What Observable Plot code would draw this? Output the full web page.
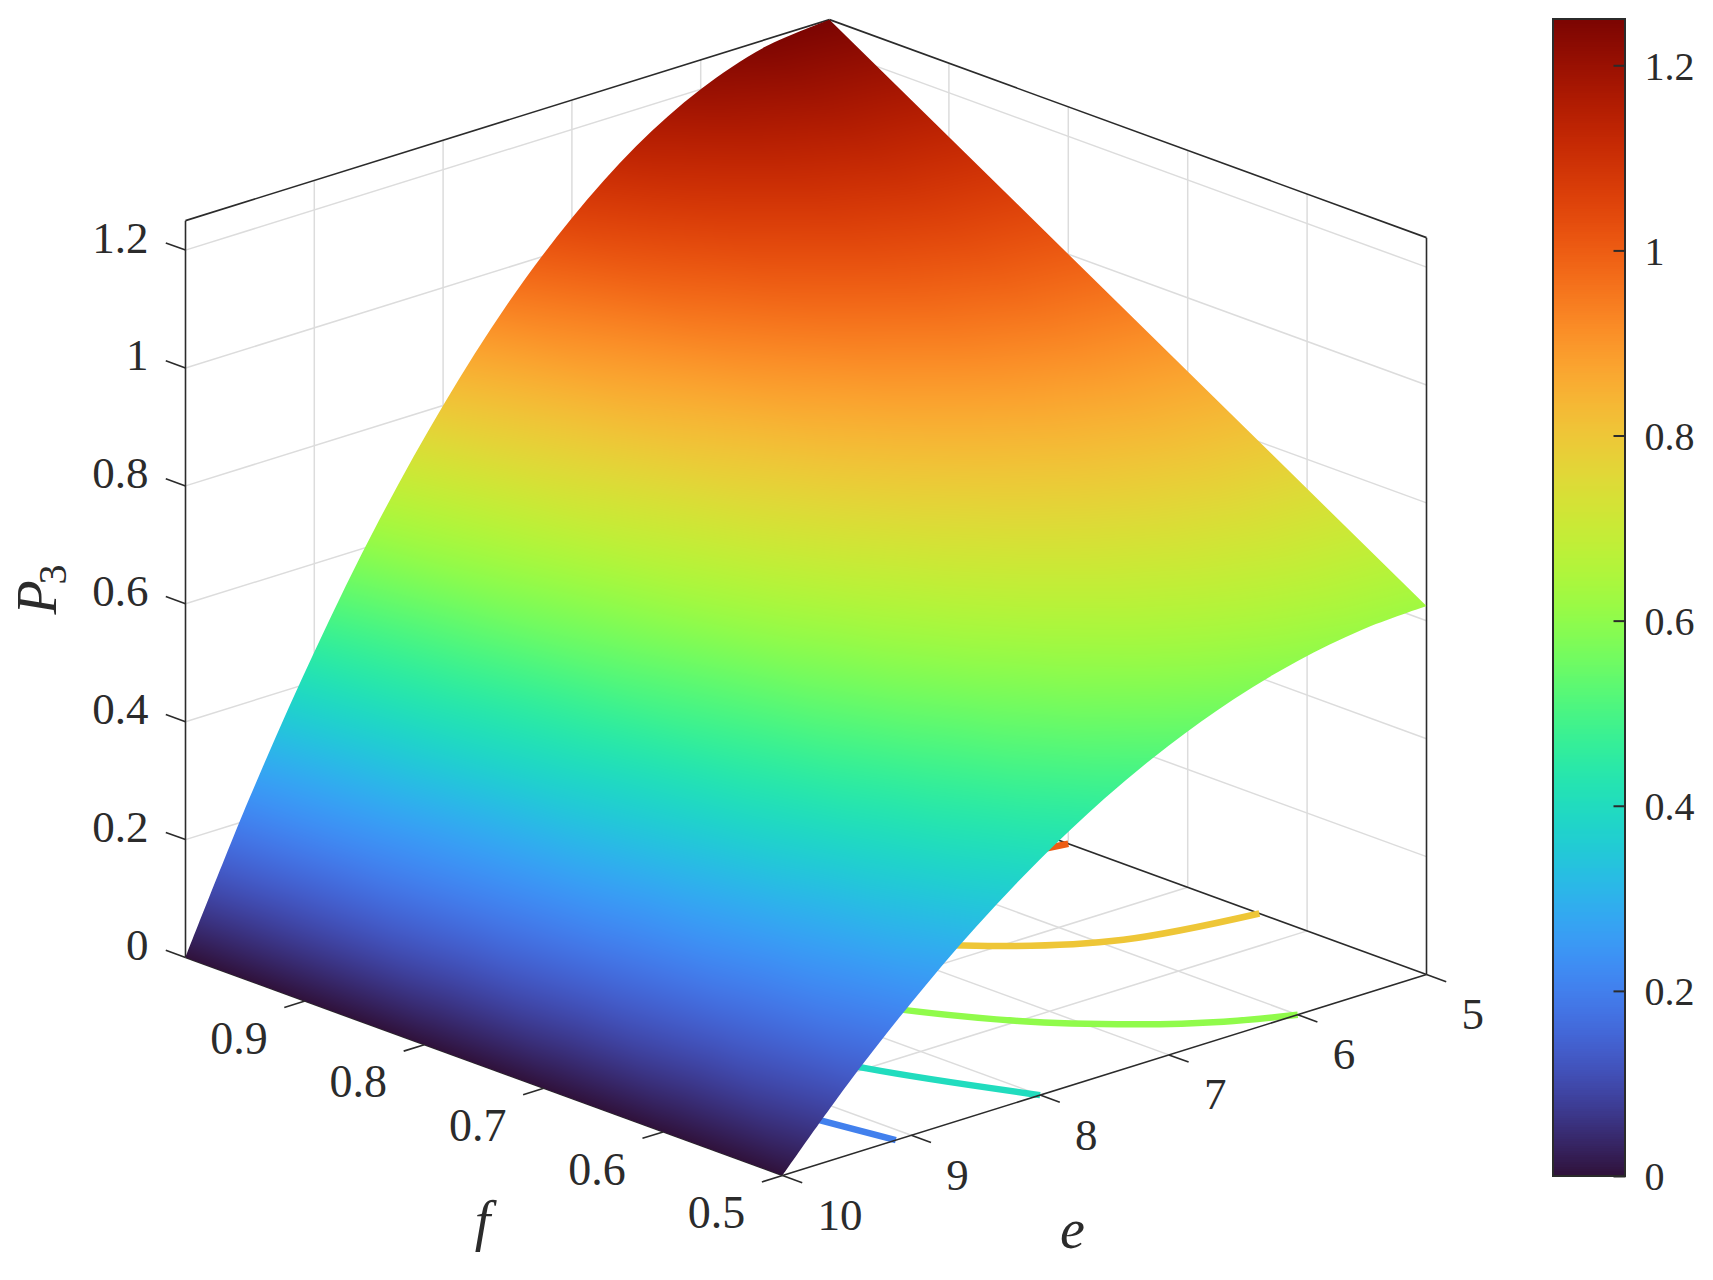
<!DOCTYPE html>
<html>
<head>
<meta charset="utf-8">
<script src="https://cdn.jsdelivr.net/npm/d3@7"></script>
<script src="https://cdn.jsdelivr.net/npm/@observablehq/plot@0.6"></script>
<style>html,body{margin:0;padding:0;background:#fff}svg{display:block}</style>
</head>
<body>
<div id="chart"></div>
<script>
// ---- values ----
const eValues = [5, 5.5, 6, 6.5, 7, 7.5, 8, 8.5, 9, 9.5, 10];
const fValues = [0.5, 0.6, 0.7, 0.8, 0.9, 1];
const P3_f05 = [0.625, 0.619, 0.600, 0.569, 0.525, 0.469, 0.400, 0.319, 0.225, 0.119, 0];
const P3_f06 = [0.750, 0.743, 0.720, 0.683, 0.630, 0.563, 0.480, 0.383, 0.270, 0.143, 0];
const P3_f07 = [0.875, 0.866, 0.840, 0.796, 0.735, 0.656, 0.560, 0.446, 0.315, 0.166, 0];
const P3_f08 = [1.000, 0.990, 0.960, 0.910, 0.840, 0.750, 0.640, 0.510, 0.360, 0.190, 0];
const P3_f09 = [1.125, 1.114, 1.080, 1.024, 0.945, 0.844, 0.720, 0.574, 0.405, 0.214, 0];
const P3_f10 = [1.250, 1.238, 1.200, 1.138, 1.050, 0.938, 0.800, 0.638, 0.450, 0.238, 0];
const P3Rows = [P3_f05, P3_f06, P3_f07, P3_f08, P3_f09, P3_f10];

// floor contours: level, then matching f and e lists
const contourLevels = [0.2, 0.4, 0.6, 0.8, 1.0];
const contourF = [
  [0.5, 0.6, 0.7, 0.8, 0.9, 1],
  [0.5, 0.6, 0.7, 0.8, 0.9, 1],
  [0.5, 0.52, 0.55, 0.6, 0.7, 0.8, 0.9, 1],
  [0.64, 0.66, 0.7, 0.8, 0.9, 1],
  [0.8, 0.82, 0.85, 0.9, 1]
];
const contourE = [
  [9.12, 9.28, 9.39, 9.47, 9.53, 9.58],
  [8.00, 8.42, 8.68, 8.87, 9.01, 9.12],
  [6.00, 6.39, 6.78, 7.24, 7.80, 8.16, 8.42, 8.61],
  [5.00, 5.87, 6.46, 7.24, 7.69, 8.00],
  [5.00, 5.78, 6.21, 6.67, 7.24]
];

const zTicks = [0, 0.2, 0.4, 0.6, 0.8, 1, 1.2];
const zLabels = ["0", "0.2", "0.4", "0.6", "0.8", "1", "1.2"];
const eTicks = [5, 6, 7, 8, 9, 10];
const fTicks = [0.5, 0.6, 0.7, 0.8, 0.9];
const fLabels = ["0.5", "0.6", "0.7", "0.8", "0.9"];
const zMax = 1.25;
// MATLAB-style turbo colormap control colours, evenly spaced from 0 to zMax
const turboColors = ["#30123b", "#4145ab", "#4675ed", "#39a2fc", "#1bcfd4", "#24eca6", "#61fc6c", "#a4fc3b", "#d1e834", "#f3c63a", "#fe9b2d", "#f36315", "#d93806", "#b11901", "#7a0402"];

// ---- orthographic view of the box (e, f, P3) -> page units ----
const view = {x0: 782, y0: 1175, ex: 644, ey: -201, fx: -597, fy: -218, zy: -589.5};
const px = (e, f) => view.x0 + view.ex * (10 - e) / 5 + view.fx * (f - 0.5) / 0.5;
const py = (e, f, z = 0) => view.y0 + view.ey * (10 - e) / 5 + view.fy * (f - 0.5) / 0.5 + view.zy * z;
const seg = (e1, f1, z1, e2, f2, z2) => ({x1: px(e1, f1), y1: py(e1, f1, z1), x2: px(e2, f2), y2: py(e2, f2, z2)});

// colour bar placement
const bar = {x1: 1553, x2: 1625, y0: 1176, k: 925.6};
const barY = (v) => bar.y0 - bar.k * v;

// ---- derived tables ----
const surface = fValues.flatMap((f, i) => eValues.map((e, j) => ({x: px(e, f), y: py(e, f, P3Rows[i][j]), z: P3Rows[i][j]})));

const zGrid = zTicks.slice(1);
const gridLines = [
  ...zGrid.map(z => seg(10, 1, z, 5, 1, z)),
  ...zGrid.map(z => seg(5, 1, z, 5, 0.5, z)),
  ...eTicks.slice(1, 5).map(e => seg(e, 1, 0, e, 1, zMax)),
  ...fTicks.slice(1).map(f => seg(5, f, 0, 5, f, zMax)),
  ...eTicks.slice(1, 5).map(e => seg(e, 0.5, 0, e, 1, 0)),
  ...fTicks.slice(1).map(f => seg(10, f, 0, 5, f, 0))
];
const backBox = [
  seg(10, 1, zMax, 5, 1, zMax), seg(5, 1, zMax, 5, 0.5, zMax),
  seg(10, 1, 0, 10, 1, zMax), seg(5, 0.5, 0, 5, 0.5, zMax),
  seg(5, 1, 0, 5, 0.5, 0), seg(10, 1, 0, 10, 0.5, 0)
];
const frontBox = [seg(10, 0.5, 0, 5, 0.5, 0)];
const tickLines = [
  ...zTicks.map(z => seg(10, 1, z, 10, 1.0165, z)),
  ...eTicks.map(e => seg(e, 0.5, 0, e, 0.4835, 0)),
  ...fTicks.map(f => seg(10, f, 0, 10.16, f, 0))
];
const contours = contourLevels.flatMap((level, i) =>
  contourF[i].map((f, j) => ({level, x: px(contourE[i][j], f), y: py(contourE[i][j], f)})));

const barStep = 0.0025;
const barBands = d3.range(0, zMax, barStep).map(v => ({v, y1: barY(v), y2: barY(v + barStep)}));
const barLabels = zTicks.map((v, i) => ({v, label: zLabels[i]}));

const serif = "Liberation Serif";
const ink = "#2b2b2b";
const text = {fontFamily: serif, fill: ink, lineAnchor: "middle"};

const plot = Plot.plot({
  width: 1713, height: 1280,
  marginTop: 0, marginRight: 0, marginBottom: 0, marginLeft: 0,
  style: {background: "#fff"},
  x: {domain: [0, 1713], range: [0, 1713], axis: null},
  y: {domain: [0, 1280], range: [0, 1280], axis: null},
  color: {type: "linear", domain: [0, zMax], interpolate: d3.interpolateRgbBasis(turboColors)},
  marks: [
    Plot.link(gridLines, {x1: "x1", y1: "y1", x2: "x2", y2: "y2", stroke: "#dcdcdc", strokeWidth: 1.5}),
    Plot.link(backBox, {x1: "x1", y1: "y1", x2: "x2", y2: "y2", stroke: ink, strokeWidth: 1.6}),
    Plot.line(contours, {x: "x", y: "y", z: "level", stroke: "level", strokeWidth: 6.5, strokeLinecap: "butt", curve: "catmull-rom"}),
    Plot.raster(surface, {x: "x", y: "y", fill: "z", interpolate: "barycentric", pixelSize: 1}),
    Plot.link(frontBox, {x1: "x1", y1: "y1", x2: "x2", y2: "y2", stroke: ink, strokeWidth: 1.6}),
    Plot.link(tickLines, {x1: "x1", y1: "y1", x2: "x2", y2: "y2", stroke: ink, strokeWidth: 1.6}),

    Plot.text(zTicks, {x: () => 148, y: z => py(10, 1, z) - 12, text: (z, i) => zLabels[i], textAnchor: "end", fontSize: 45, ...text}),
    Plot.text(fTicks, {x: f => px(10, f) - 66, y: f => py(10, f) + 38, text: (f, i) => fLabels[i], fontSize: 46, ...text}),
    Plot.text(eTicks, {x: e => px(e, 0.5) + 35, y: e => py(e, 0.5) + 40, text: e => String(e), textAnchor: "start", fontSize: 45, ...text}),
    Plot.text(["f"], {x: () => 482, y: () => 1222, text: d => d, fontSize: 56, fontStyle: "italic", ...text}),
    Plot.text(["e"], {x: () => 1072, y: () => 1230, text: d => d, fontSize: 56, fontStyle: "italic", ...text}),
    Plot.text(["P"], {x: () => 38, y: () => 597, text: d => d, rotate: -90, fontSize: 56, fontStyle: "italic", ...text}),
    Plot.text(["3"], {x: () => 53, y: () => 574, text: d => d, rotate: -90, fontSize: 40, ...text}),

    Plot.rect(barBands, {x1: () => bar.x1, x2: () => bar.x2, y1: "y1", y2: "y2", fill: "v", shapeRendering: "crispEdges"}),
    Plot.rect([0], {x1: () => bar.x1, x2: () => bar.x2, y1: () => barY(0), y2: () => barY(zMax), stroke: ink, strokeWidth: 2, fill: "none"}),
    Plot.link(zTicks, {x1: () => bar.x2 - 12, x2: () => bar.x2, y1: v => barY(v), y2: v => barY(v), stroke: ink, strokeWidth: 2}),
    Plot.text(barLabels, {x: () => 1644, y: d => barY(d.v) + 1, text: "label", textAnchor: "start", fontSize: 40, ...text})
  ]
});

// clip the raster to the outline of the surface
const sx = plot.scale("x").apply, sy = plot.scale("y").apply;
const edge = (points, curve) => d3.line().x(p => sx(p[0])).y(p => sy(p[1])).curve(curve)(points);
const rowF1 = eValues.map((e, j) => [px(e, 1), py(e, 1, P3_f10[j])]).reverse();
const rowF05 = eValues.map((e, j) => [px(e, 0.5), py(e, 0.5, P3_f05[j])]);
const outline = edge(rowF1, d3.curveCatmullRom) + edge(rowF05, d3.curveCatmullRom).replace(/^M/, "L") + "Z";
const ns = "http://www.w3.org/2000/svg";
const clip = document.createElementNS(ns, "clipPath");
clip.setAttribute("id", "surfaceClip");
const clipShape = document.createElementNS(ns, "path");
clipShape.setAttribute("d", outline);
clip.appendChild(clipShape);
plot.insertBefore(clip, plot.firstChild);
plot.querySelector("image").setAttribute("clip-path", "url(#surfaceClip)");

document.getElementById("chart").appendChild(plot);
</script>
</body>
</html>
